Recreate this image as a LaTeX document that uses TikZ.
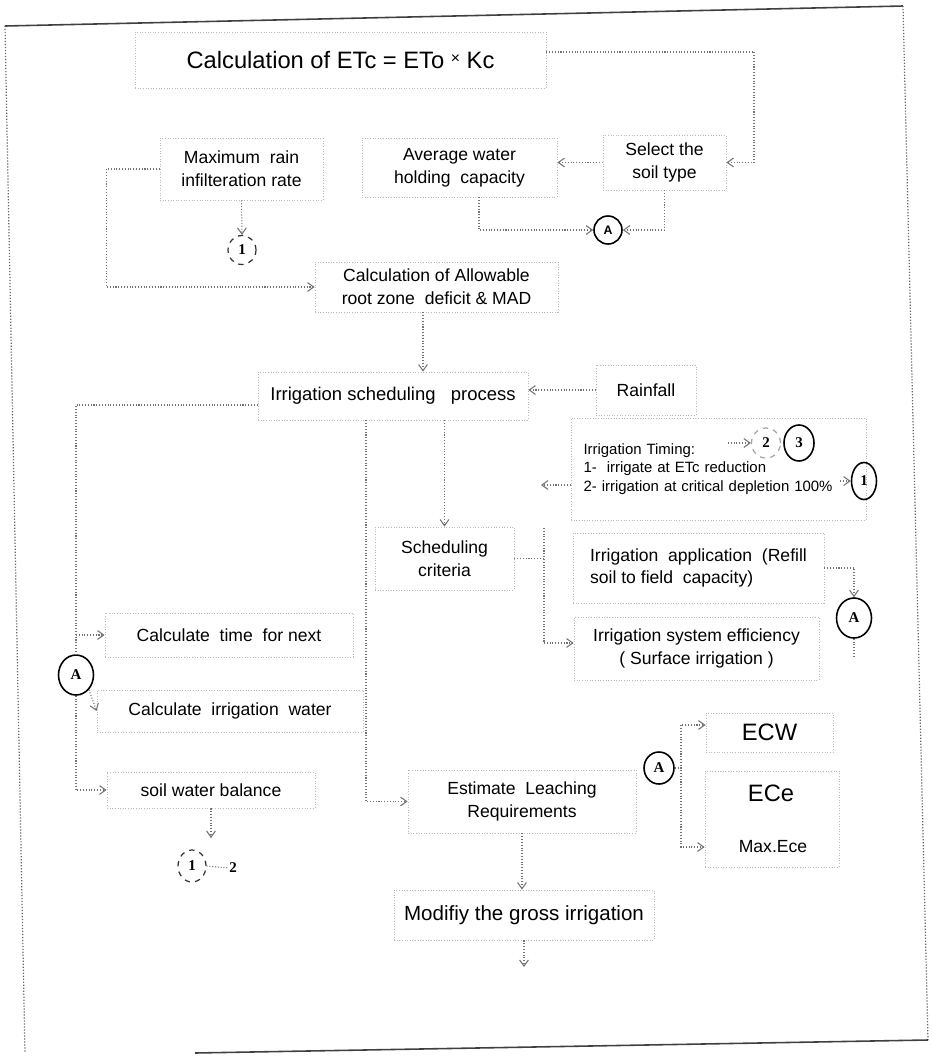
\documentclass[tikz,border=0pt]{standalone}
\usepackage{fontspec}
\setmainfont{Liberation Sans}
\newfontfamily\circfont{Liberation Serif}
\usetikzlibrary{arrows.meta,shapes.geometric,calc}
\begin{document}
\begin{tikzpicture}[x=0.02cm,y=-0.02cm,
  box/.style={draw=gray!55, densely dotted, line width=0.5pt, inner sep=0pt, align=center, font=\fontsize{10}{13}\selectfont},
  txt/.style={inner sep=0pt, align=center},
  conn/.style={draw=black!55, densely dotted, line width=0.6pt},
  arr/.style={conn, -{Straight Barb[length=3.5pt,width=5pt]}},
  circ/.style={circle, draw=black, line width=0.9pt, inner sep=0pt, font=\bfseries\fontsize{7}{7}\selectfont},
  oval/.style={ellipse, draw=black, line width=0.9pt, inner sep=0pt, font=\circfont\bfseries\fontsize{8.5}{9}\selectfont},
  doval/.style={ellipse, draw=black!80, dashed, line width=0.7pt, inner sep=0pt, font=\circfont\bfseries\fontsize{8.5}{9}\selectfont}]
\useasboundingbox (0,0) rectangle (932,1056);
% frame
\draw[black!75, line width=0.9pt] (5,26) -- (903,6);
\draw[black!60, densely dotted, line width=0.7pt] (903,6) -- (928,1040);
\draw[black!75, line width=0.9pt] (928,1040) -- (195,1053);
\draw[black!60, densely dotted, line width=0.7pt] (5,26) -- (25,1053);
% nodes
\node[box, minimum width=8.22cm, minimum height=1.12cm, font=\fontsize{13.5}{16}\selectfont] (title) at (340.5,60) {Calculation of ETc = ETo {\fontsize{9}{9}\selectfont\raisebox{0.3em}{×}} Kc};
\node[box, minimum width=3.26cm, minimum height=1.24cm] (maxrain) at (241.5,169) {Maximum\ \ rain\\infilteration rate};
\node[box, minimum width=3.9cm, minimum height=1.18cm] (avg) at (459.5,167.5) {Average water\\holding\ \ capacity};
\node[box, minimum width=2.46cm, minimum height=1.1cm] (select) at (664.5,162.5) {Select the\\soil type};
\node[circ, minimum size=0.56cm] (cA1) at (608,230) {A};
\node[doval, minimum width=0.56cm, minimum height=0.58cm] (c1a) at (242,250) {1};
\node[box, minimum width=4.86cm, minimum height=1.0cm] (calcallow) at (436.5,287) {Calculation of Allowable\\root zone\ \ deficit \& MAD};
\node[box, minimum width=5.4cm, minimum height=0.96cm, font=\fontsize{10.5}{13}\selectfont] (irrsched) at (393,396) {Irrigation scheduling\ \ \ process};
\node[box, minimum width=2cm, minimum height=1cm] (rainfall) at (646,390) {Rainfall};
\node[box, minimum width=5.9cm, minimum height=2.04cm, text width=5.4cm, align=left, font=\fontsize{8.5}{10.5}\selectfont] (timing) at (718.5,469) {Irrigation Timing:\\1-\ \ irrigate at ETc reduction\\2- irrigation at critical depletion 100\%};
\node[doval, draw=gray!70, minimum width=0.58cm, minimum height=0.6cm] (c2) at (766,443) {2};
\node[oval, minimum width=0.6cm, minimum height=0.72cm] (c3) at (799,443) {3};
\node[oval, minimum width=0.5cm, minimum height=0.74cm] (c1b) at (864,481) {1};
\node[box, minimum width=2.78cm, minimum height=1.26cm] (schedcrit) at (444.5,558.5) {Scheduling\\criteria};
\node[box, minimum width=5.02cm, minimum height=1.4cm, align=left] (irrapp) at (698.5,568) {Irrigation\ \ application\ \ (Refill\\soil to field\ \ capacity)};
\node[box, minimum width=4.9cm, minimum height=1.26cm] (irreff) at (696.5,648.5) {Irrigation system efficiency\\( Surface irrigation\ )};
\node[oval, minimum width=0.7cm, minimum height=0.8cm] (cA2) at (854,618) {A};
\node[oval, minimum width=0.7cm, minimum height=0.8cm] (cA3) at (76,675) {A};
\node[box, minimum width=4.96cm, minimum height=0.88cm] (calctime) at (229,635) {Calculate\ \ time\ \ for next};
\node[box, minimum width=5.32cm, minimum height=0.84cm] (calcwater) at (230,711) {Calculate\ \ irrigation\ \ water};
\node[box, minimum width=4.16cm, minimum height=0.72cm] (soilbal) at (211,790) {soil water balance};
\node[doval, minimum width=0.56cm, minimum height=0.64cm] (c1c) at (192,866) {1};
\node[txt, font=\circfont\bfseries\fontsize{8.5}{9}\selectfont] (two) at (233,868) {2};
\node[box, minimum width=4.56cm, minimum height=1.26cm] (estimate) at (522,801.5) {Estimate\ \ Leaching\\Requirements};
\node[box, minimum width=5.2cm, minimum height=1cm, font=\fontsize{11.7}{14}\selectfont] (modify) at (524,915) {Modifiy the gross irrigation};
\node[oval, minimum width=0.6cm, minimum height=0.64cm] (cA4) at (659,768) {A};
\node[box, minimum width=2.54cm, minimum height=0.78cm, font=\fontsize{13.5}{16}\selectfont] (ecw) at (769.5,732.5) {ECW};
\node[box, minimum width=2.68cm, minimum height=1.92cm] (ecebox) at (772,819) {};
\node[txt, font=\fontsize{13.5}{16}\selectfont] (ece) at (771,793) {ECe};
\node[txt, font=\fontsize{10}{12}\selectfont] (maxece) at (773,847) {Max.Ece};
% connectors
\coordinate (tr) at (754,52);
\draw[arr] (title.east |- tr) -- (tr) |- (select.east);
\draw[arr] (select.west) -- (select.west -| avg.east);
\draw[arr] (select.south) |- (cA1.east);
\draw[arr] ([xshift=0.39cm]avg.south) |- (cA1.west);
\draw[arr] (maxrain.south) -- (c1a.north);
\draw[arr] (maxrain.west) -- ++(-53,0) |- (calcallow.west);
\draw[arr] ([xshift=-0.27cm]calcallow.south) -- ([xshift=-0.27cm]calcallow.south |- irrsched.north);
\draw[arr] (rainfall.west) -- (rainfall.west -| irrsched.east);
\draw[arr] (schedcrit.north |- irrsched.south) -- (schedcrit.north);
\coordinate (tl) at (541,485);
\draw[arr] (timing.west |- tl) -- (tl);
\coordinate (t2) at (728,443);
\draw[arr] (t2) -- (c2.west);
\coordinate (t1) at (840,481);
\draw[arr] (t1) -- (c1b.west);
\coordinate (bt) at (544,528);
\coordinate (bb) at (544,643);
\draw[conn] (schedcrit.east) -- (schedcrit.east -| bt);
\draw[conn] (bt) -- (bb);
\draw[arr] (bb) -- (bb -| irreff.west);
\draw[arr] (irrapp.east) -| (cA2.north);
\draw[conn] (cA2.south) -- ++(0,18);
\draw[conn] ([yshift=-0.18cm]irrsched.west) -| (cA3.north);
\draw[arr] (cA3.north |- calctime.west) -- (calctime.west);
\draw[arr] (cA3.south east) -- (calcwater.west);
\draw[arr] (cA3.south) |- (soilbal.west);
\coordinate (sb) at (211,838);
\draw[arr] (soilbal.south) -- (sb);
\draw[conn] (c1c.east) -- (two.west);
\draw[arr] ([xshift=-0.54cm]irrsched.south) |- (estimate.west);
\draw[arr] (estimate.south) -- (estimate.south |- modify.north);
\coordinate (md) at (524,967);
\draw[arr] (modify.south) -- (md);
\coordinate (bt2) at (681,725);
\coordinate (bb2) at (681,847);
\draw[arr] (cA4.east) -| (bt2) -- (bt2 -| ecw.west);
\draw[arr] (cA4.east) -| (bb2) -- (bb2 -| ecebox.west);
\end{tikzpicture}
\end{document}
